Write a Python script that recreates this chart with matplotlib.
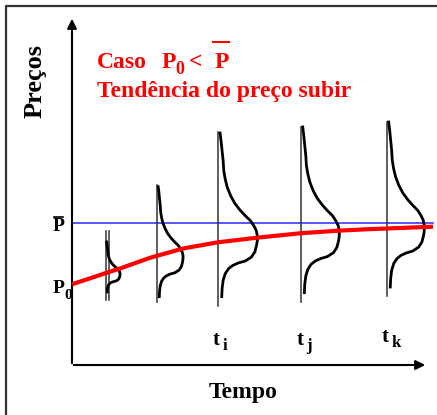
import numpy as np
import matplotlib.pyplot as plt

# -----------------------------
# datos (coordenadas en pixeles, y hacia abajo)
# -----------------------------
# curva roja: tendencia del precio
trend_x = [72, 106, 120, 150, 183, 218, 257, 300, 338, 366, 433]
trend_y = [284.3, 273, 268.5, 257.8, 248.5, 242.3, 237.7, 233.3, 230.7, 229.3, 226.7]

# precio de equilibrio P barra
p_bar = 223

# distribuciones en cada instante
dist_x = [106, 157, 218.3, 301, 387]
line_top = [231, 185, 132.3, 126.7, 122]
line_bot = [300, 301.7, 306, 301.7, 296]
curve_top = [242, 186.7, 133, 127, 122]
curve_bot = [292, 296.7, 296.7, 292.7, 287]
dist_w = [14, 26, 39, 38.3, 37.3]

# forma de la curva (fraccion vertical, fraccion del ancho)
shape_s = [0, .051, .111, .172, .232, .283, .333, .384, .430, .471, .505, .535, .566, .596,
           .626, .657, .687, .727, .758, .782, .794, .808, .828, .859, .899, .949, 1.0]
shape_d = [.045, .072, .098, .125, .141, .178, .231, .318, .424, .557, .690, .822, .910, .973,
           1.0, 1.0, .981, .936, .849, .690, .512, .379, .265, .178, .125, .098, .088]

# etiquetas de tiempo
t_labels = [('t', 'i'), ('t', 'j'), ('t', 'k')]
t_pos = [(213, 345), (297, 345), (382, 342)]

serif = 'Liberation Serif'

fig = plt.figure(figsize=(4.37, 4.15), dpi=100)
ax = fig.add_axes([0, 0, 1, 1])
ax.set_xlim(0, 437)
ax.set_ylim(415, 0)
ax.axis('off')

# marco exterior
ax.plot([6, 6, 437], [415, 6, 6], color='#333333', lw=1.6)

# ejes con flechas
ax.annotate('', xy=(72, 16), xytext=(72, 366),
            arrowprops=dict(arrowstyle='-|>', lw=1.5, color='black', mutation_scale=14))
ax.annotate('', xy=(428, 365), xytext=(71, 365),
            arrowprops=dict(arrowstyle='-|>', lw=1.5, color='black', mutation_scale=14))

# linea azul P barra
ax.plot([72, 433], [p_bar, p_bar], color='#3a3aff', lw=1.2, zorder=2)

# distribuciones
s = np.array(shape_s)
d = np.array(shape_d)
for i in range(len(dist_x)):
    ax.plot([dist_x[i], dist_x[i]], [line_top[i], line_bot[i]], color='#333333', lw=1.1, zorder=3)
    yy = curve_top[i] + s * (curve_bot[i] - curve_top[i])
    xx = dist_x[i] + d * dist_w[i]
    ax.plot(xx, yy, color='black', lw=2, zorder=4, solid_joinstyle='round')
# doble linea en la primera
ax.plot([dist_x[0] + 2.5, dist_x[0] + 2.5], [line_top[0], line_bot[0]], color='#333333', lw=1.1, zorder=3)

# curva roja
ax.plot(trend_x, trend_y, color='#ff0000', lw=3, zorder=5, solid_capstyle='butt',
        solid_joinstyle='round')

# textos
red = '#ff0000'
ax.text(97, 68, 'Caso', color=red, fontsize=17, fontweight='bold', family=serif, va='baseline')
ax.text(162, 68, 'P', color=red, fontsize=17, fontweight='bold', family=serif, va='baseline')
ax.text(175.5, 74, '0', color=red, fontsize=13, fontweight='bold', family=serif, va='baseline')
ax.text(189, 68, '<', color=red, fontsize=17, fontweight='bold', family=serif, va='baseline')
ax.text(215, 68, 'P', color=red, fontsize=17, fontweight='bold', family=serif, va='baseline')
ax.plot([213, 229], [42, 42], color=red, lw=1.5)
ax.text(97, 97, 'Tendência do preço subir', color=red, fontsize=17, fontweight='bold',
        family=serif, va='baseline')

ax.text(35, 81, 'Preços', rotation=90, fontsize=19, fontweight='bold', family=serif,
        ha='center', va='center')
ax.text(243, 392, 'Tempo', fontsize=17, fontweight='bold', family=serif, ha='center', va='center')

# P barra y P0
ax.text(53, 231, 'P', fontsize=14, fontweight='bold', family=serif, va='baseline')
ax.plot([53.5, 62.5], [217, 217], color='black', lw=1.2)
ax.text(53, 293, 'P', fontsize=14, fontweight='bold', family=serif, va='baseline')
ax.text(64.5, 299, '0', fontsize=11, fontweight='bold', family=serif, va='baseline')

for (a, b), (x, y) in zip(t_labels, t_pos):
    ax.text(x, y, a, fontsize=15, fontweight='bold', family=serif, va='baseline')
    ax.text(x + 9.5, y + 5, b, fontsize=12, fontweight='bold', family=serif, va='baseline')

fig.savefig('out.png', dpi=100)
